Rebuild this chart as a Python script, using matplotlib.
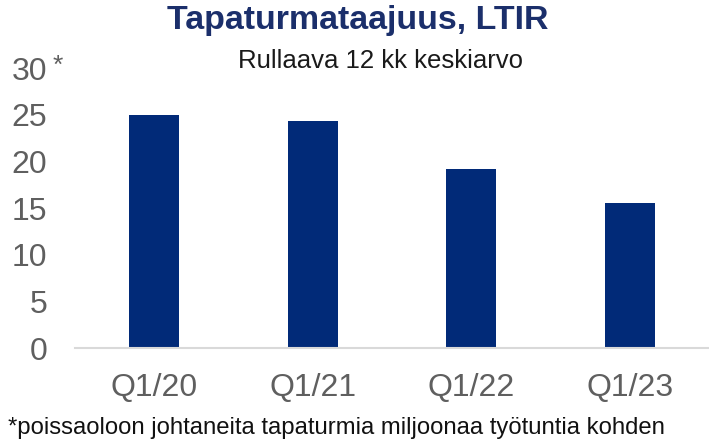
import matplotlib
matplotlib.use("Agg")
import matplotlib.pyplot as plt

categories = ["Q1/20", "Q1/21", "Q1/22", "Q1/23"]
values = [25.0, 24.3, 19.2, 15.5]
yticks = [0, 5, 10, 15, 20, 25, 30]

title = "Tapaturmataajuus, LTIR"
subtitle = "Rullaava 12 kk keskiarvo"
footnote = "*poissaoloon johtaneita tapaturmia miljoonaa työtuntia kohden"

plt.rcParams['font.family'] = ['Liberation Sans', 'DejaVu Sans']

W, H = 709, 443
fig = plt.figure(figsize=(W/100, H/100), dpi=100)
ax = fig.add_axes([75/W, 1-348.3/H, (709-75)/W, (348.3-68)/H])

x = range(len(categories))
ax.bar(x, values, width=0.315, color="#012A78")
ax.set_xlim(-0.5, 3.5)
ax.set_ylim(0, 30)
ax.set_yticks(yticks)
ax.set_xticks(list(x))
ax.set_xticklabels(categories)
for s in ["top", "right", "left"]:
    ax.spines[s].set_visible(False)
ax.spines["bottom"].set_color("#D9D9D9")
ax.spines["bottom"].set_linewidth(1.5)
ax.tick_params(axis="both", length=0, labelsize=23, labelcolor="#5F5F5F")
ax.tick_params(axis="y", pad=20)
ax.tick_params(axis="x", pad=18)

fig.text(358/W, 1-20/H, title, ha="center", va="center", fontsize=24.5,
         fontweight="bold", color="#1B2F6B")
fig.text(380/W, 1-61/H, subtitle, ha="center", va="center", fontsize=18.5, color="#1A1A1A")
fig.text(53/W, 1-66/H, "*", ha="left", va="center", fontsize=19, color="#5F5F5F")
fig.text(8/W, 1-428/H, footnote, ha="left", va="center", fontsize=17.2, color="#111111")

fig.savefig("out.png", dpi=100)
